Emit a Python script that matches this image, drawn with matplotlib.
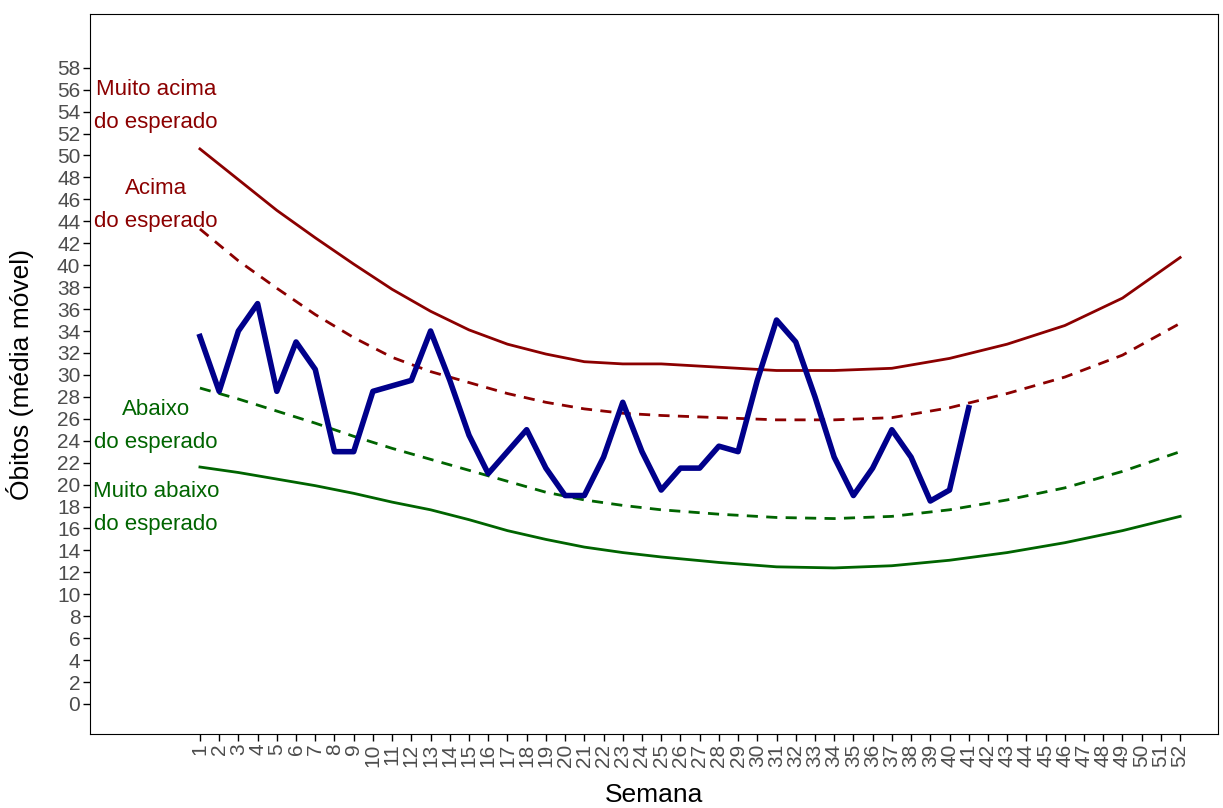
import matplotlib.pyplot as plt

plt.rcParams["font.family"] = ["Liberation Sans", "DejaVu Sans"]

weeks = list(range(1, 42))
obitos = [33.5, 28.5, 34, 36.5, 28.5, 33, 30.5, 23, 23, 28.5, 29, 29.5, 34, 29.5,
          24.5, 21, 23, 25, 21.5, 19, 19, 22.5, 27.5, 23, 19.5, 21.5, 21.5, 23.5,
          23, 29.5, 35, 33, 28, 22.5, 19, 21.5, 25, 22.5, 18.5, 19.5, 27]

ref_weeks = [1, 3, 5, 7, 9, 11, 13, 15, 17, 19, 21, 23, 25, 28, 31, 34, 37, 40, 43, 46, 49, 52]
muito_acima = [50.6, 47.8, 45.0, 42.5, 40.1, 37.8, 35.8, 34.1, 32.8, 31.9, 31.2, 31.0, 31.0, 30.7,
               30.4, 30.4, 30.6, 31.5, 32.8, 34.5, 37.0, 40.7]
acima = [43.3, 40.4, 37.9, 35.5, 33.4, 31.6, 30.3, 29.3, 28.3, 27.5, 26.9, 26.5, 26.3, 26.1,
         25.9, 25.9, 26.1, 27.0, 28.3, 29.8, 31.8, 34.7]
abaixo = [28.8, 27.8, 26.7, 25.6, 24.4, 23.3, 22.3, 21.3, 20.3, 19.3, 18.6, 18.1, 17.7, 17.3,
          17.0, 16.9, 17.1, 17.7, 18.6, 19.7, 21.2, 23.0]
muito_abaixo = [21.6, 21.1, 20.5, 19.9, 19.2, 18.4, 17.7, 16.8, 15.8, 15.0, 14.3, 13.8, 13.4, 12.9,
                12.5, 12.4, 12.6, 13.1, 13.8, 14.7, 15.8, 17.1]

red = "#8b0000"
green = "#006400"

fig = plt.figure(figsize=(12.23, 8.08), dpi=100)
ax = fig.add_axes([90 / 1223, 74 / 808, 1128 / 1223, 720 / 808])

ax.plot(ref_weeks, muito_acima, color=red, lw=2)
ax.plot(ref_weeks, acima, color=red, lw=2, ls=(0, (4, 3)))
ax.plot(ref_weeks, abaixo, color=green, lw=2, ls=(0, (4, 3)))
ax.plot(ref_weeks, muito_abaixo, color=green, lw=2)
ax.plot(weeks, obitos, color="#00008b", lw=4)

tk = dict(ha="center", va="center", fontsize=16, linespacing=1.75)
ax.text(-1.3, 54.5, "Muito acima\ndo esperado", color=red, **tk)
ax.text(-1.3, 45.5, "Acima\ndo esperado", color=red, **tk)
ax.text(-1.3, 25.3, "Abaixo\ndo esperado", color=green, **tk)
ax.text(-1.3, 17.9, "Muito abaixo\ndo esperado", color=green, **tk)

ax.set_xlim(-4.72, 53.97)
ax.set_ylim(-2.74, 62.9)
ax.set_xticks(range(1, 53))
ax.set_xticklabels([str(w) for w in range(1, 53)], rotation=90, fontsize=15, color="#4d4d4d")
ax.set_yticks(range(0, 60, 2))
ax.set_yticklabels([str(v) for v in range(0, 60, 2)], fontsize=15, color="#4d4d4d")
ax.tick_params(length=5, width=1, pad=2)
ax.set_xlabel("Semana", fontsize=19)
ax.xaxis.set_label_coords(0.5, -0.068)
ax.set_ylabel("Óbitos (média móvel)", fontsize=19)
ax.yaxis.set_label_coords(-0.05, 0.5)

fig.savefig("out.png", dpi=100)
